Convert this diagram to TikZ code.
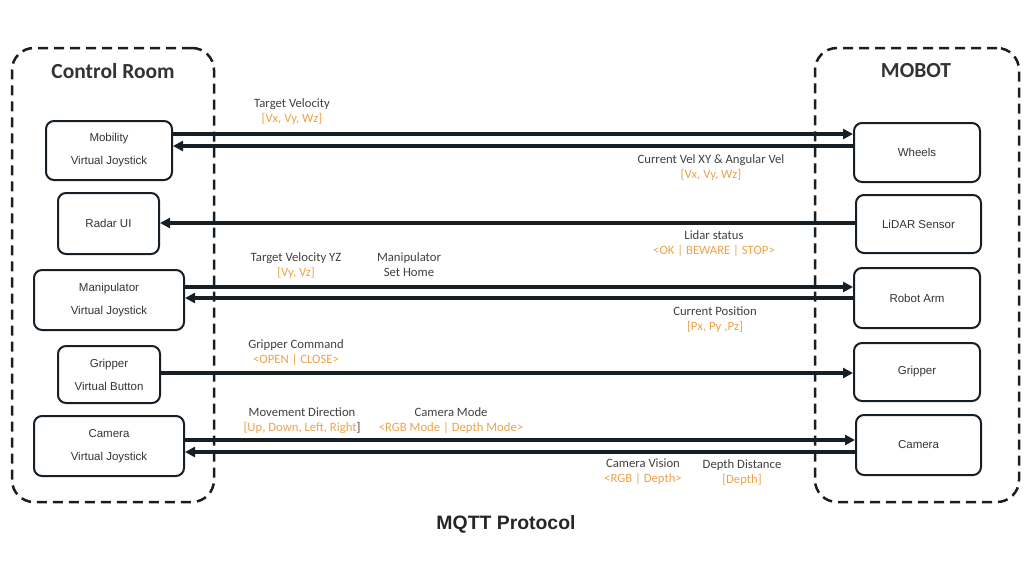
\documentclass[tikz,border=0pt]{standalone}
\usepackage{fontspec}
\setmainfont{Liberation Sans}
\newfontfamily\lblfont{Carlito}
\usepackage{tikz}
\usetikzlibrary{positioning,arrows.meta}
\definecolor{ink}{RGB}{22,30,38}
\definecolor{lblgray}{RGB}{64,64,64}
\definecolor{lblorange}{RGB}{236,162,74}
\tikzset{
  unit/.style={draw=ink, line width=2pt, rounded corners=8pt, align=center,
               font=\fontsize{11.5}{23}\selectfont, text=black!80, inner sep=0pt},
  zone/.style={draw=ink, line width=2.5pt, dash pattern=on 10pt off 6pt, rounded corners=22pt},
  zonetitle/.style={font=\lblfont\bfseries\fontsize{21.5}{24}\selectfont, text=black!80},
  fwd/.style={-{Triangle[length=10pt,width=10pt]}, line width=3.2pt, draw=ink},
  lbl/.style={font=\lblfont\fontsize{12.7}{15}\selectfont, text=lblgray, align=center},
}
\newcommand{\val}[1]{\textcolor{lblorange}{#1}}

\begin{document}
\begin{tikzpicture}[x=1pt, y=-1pt]
  \useasboundingbox (0,0) rectangle (1024,576);

  % containers
  \node[zone, minimum width=202pt, minimum height=454pt] (room) at (113,275) {};
  \node[zone, minimum width=204pt, minimum height=454pt] (mobot) at (917,275) {};
  \node[zonetitle] (roomtitle) at (113,71) {Control Room};
  \node[zonetitle] (mobottitle) at (916,71) {MOBOT};

  % control room side
  \node[unit, minimum width=126pt, minimum height=59pt] (node1) at (109,150.5) {Mobility\\Virtual Joystick};
  \node[unit, minimum width=101pt, minimum height=61pt] (node2) at (108.5,223.5) {Radar UI};
  \node[unit, minimum width=150pt, minimum height=60pt] (node3) at (109,300) {Manipulator\\Virtual Joystick};
  \node[unit, minimum width=102pt, minimum height=57pt] (node4) at (109,374.5) {Gripper\\Virtual Button};
  \node[unit, minimum width=150pt, minimum height=60pt] (node5) at (109,446) {Camera\\Virtual Joystick};

  % robot side
  \node[unit, minimum width=126pt, minimum height=59pt] (node6) at (917,152.5) {Wheels};
  \node[unit, minimum width=125pt, minimum height=58pt] (node7) at (918.5,224) {LiDAR Sensor};
  \node[unit, minimum width=126pt, minimum height=60pt] (node8) at (917,298) {Robot Arm};
  \node[unit, minimum width=126pt, minimum height=58pt] (node9) at (917,372) {Gripper};
  \node[unit, minimum width=125pt, minimum height=60pt] (node10) at (918.5,445) {Camera};

  % messages
  \draw[fwd] ([yshift=16.5pt]node1.east) -- ([yshift=16.5pt]node1.east -| node6.west);
  \draw[fwd] ([yshift=4.5pt]node1.east -| node6.west) -- ([yshift=4.5pt]node1.east);
  \draw[fwd] ([yshift=1pt]node7.west) -- ([yshift=1pt]node7.west -| node2.east);
  \draw[fwd] ([yshift=13pt]node3.east) -- ([yshift=13pt]node3.east -| node8.west);
  \draw[fwd] ([yshift=2pt]node3.east -| node8.west) -- ([yshift=2pt]node3.east);
  \draw[fwd] ([yshift=1.5pt]node4.east) -- ([yshift=1.5pt]node4.east -| node9.west);
  \draw[fwd] ([yshift=6pt]node5.east) -- ([yshift=6pt]node5.east -| node10.west);
  \draw[fwd] ([yshift=-6pt]node5.east -| node10.west) -- ([yshift=-6pt]node5.east);

  % labels
  \node[lbl] (lbl1) at (292,111.5) {Target Velocity\\\val{[Vx, Vy, Wz]}};
  \node[lbl] (lbl2) at (711,167.5) {Current Vel XY \& Angular Vel\\\val{[Vx, Vy, Wz]}};
  \node[lbl] (lbl3) at (714,243.5) {Lidar status\\\val{<OK | BEWARE | STOP>}};
  \node[lbl] (lbl4) at (296,265.5) {Target Velocity YZ\\\val{[Vy, Vz]}};
  \node[lbl] (lbl5) at (409,264.5) {Manipulator\\Set Home};
  \node[lbl] (lbl6) at (715,319.5) {Current Position\\\val{[Px, Py ,Pz]}};
  \node[lbl] (lbl7) at (296,352.5) {Gripper Command\\\val{<OPEN | CLOSE>}};
  \node[lbl] (lbl8) at (302,420.5) {Movement Direction\\\val{[Up, Down, Left, Right}]};
  \node[lbl] (lbl9) at (451,420.5) {Camera Mode\\\val{<RGB Mode | Depth Mode>}};
  \node[lbl] (lbl10) at (643,471.5) {Camera Vision\\\val{<RGB | Depth>}};
  \node[lbl] (lbl11) at (742,472.5) {Depth Distance\\\val{[Depth]}};

  \node[font=\bfseries\fontsize{19.4}{22}\selectfont, text=black!85] (proto) at (506,524) {MQTT Protocol};
\end{tikzpicture}
\end{document}
